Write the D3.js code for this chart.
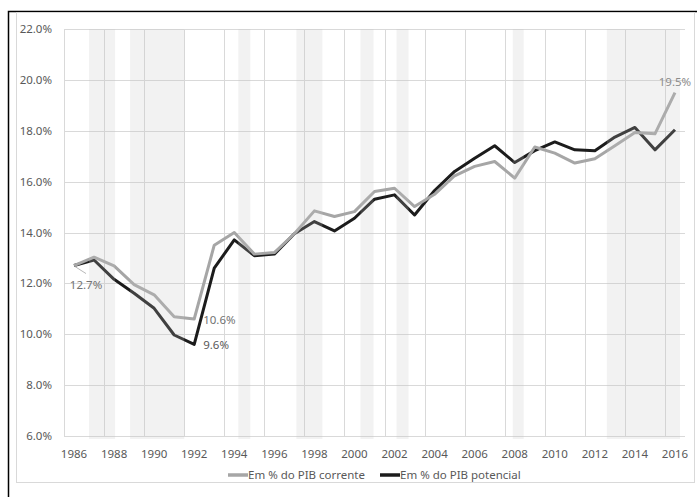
<!DOCTYPE html>
<html>
<head>
<meta charset="utf-8">
<script src="https://cdn.jsdelivr.net/npm/d3@7"></script>
<style>
  body { margin: 0; background: #fff; }
  svg { display: block; font-family: "Noto Sans", sans-serif; }
</style>
</head>
<body>
<svg width="697" height="497"></svg>
<script>
// categories
var years = [1986, 1987, 1988, 1989, 1990, 1991, 1992, 1993, 1994, 1995, 1996,
    1997, 1998, 1999, 2000, 2001, 2002, 2003, 2004, 2005, 2006, 2007, 2008,
    2009, 2010, 2011, 2012, 2013, 2014, 2015, 2016];

// % do PIB corrente (grey)
var corrente = [12.7, 13.03, 12.69, 11.95, 11.55, 10.69, 10.6, 13.5, 14.0, 13.15, 13.21,
    13.95, 14.85, 14.63, 14.82, 15.61, 15.74, 15.02, 15.5, 16.23, 16.6, 16.79, 16.14,
    17.36, 17.12, 16.73, 16.9, 17.41, 17.93, 17.88, 19.5];

// % do PIB potencial (black)
var potencial = [12.7, 12.92, 12.16, 11.61, 11.02, 9.97, 9.6, 12.6, 13.71, 13.09, 13.15,
    13.95, 14.43, 14.06, 14.56, 15.31, 15.48, 14.69, 15.65, 16.4, 16.92, 17.41, 16.75,
    17.22, 17.56, 17.25, 17.21, 17.75, 18.13, 17.25, 18.04];

// shaded periods (fractional years)
var bandStart = [1986.75, 1988.8, 1994.2, 1997.1, 2000.3, 2002.1, 2007.9, 2012.6];
var bandEnd   = [1988.05, 1991.5, 1994.8, 1998.4, 2000.95, 2002.7, 2008.45, 2016.25];

var yTicks = [6, 8, 10, 12, 14, 16, 18, 20, 22];
var xTickYears = [1986, 1988, 1990, 1992, 1994, 1996, 1998, 2000, 2002, 2004, 2006,
    2008, 2010, 2012, 2014, 2016];

var svg = d3.select("svg");

var plotL = 64, plotR = 685, plotT = 29, plotB = 436;

var x = d3.scaleBand().domain(years).range([plotL, plotR]).padding(0);
var bw = x.bandwidth();
var y = d3.scaleLinear().domain([6, 22]).range([plotB, plotT]);

function xc(yr) { return x(yr) + bw / 2; }
function xf(t) { return x(1986) + (t - 1986 + 0.5) * bw; }

// outer frame + chart area
svg.append("rect").attr("x", 8.5).attr("y", 11.5).attr("width", 720).attr("height", 520)
    .attr("fill", "none").attr("stroke", "#000").attr("stroke-width", 1.5);
svg.append("rect").attr("x", 16.5).attr("y", 12.5).attr("width", 678).attr("height", 470)
    .attr("fill", "#fff").attr("stroke", "#d9d9d9").attr("stroke-width", 1);

// horizontal grid
svg.append("g").selectAll("line").data(yTicks).enter().append("line")
    .attr("x1", plotL).attr("x2", plotR)
    .attr("y1", function (d) { return Math.round(y(d)) + 0.5; })
    .attr("y2", function (d) { return Math.round(y(d)) + 0.5; })
    .attr("stroke", "#d9d9d9").attr("stroke-width", 1);

// vertical grid
svg.append("g").selectAll("line").data(xTickYears).enter().append("line")
    .attr("x1", function (d) { return Math.round(x(d)) + 0.5; })
    .attr("x2", function (d) { return Math.round(x(d)) + 0.5; })
    .attr("y1", plotT).attr("y2", plotB)
    .attr("stroke", "#d9d9d9").attr("stroke-width", 1);

// y labels
svg.append("g").selectAll("text").data(yTicks).enter().append("text")
    .attr("x", 52).attr("y", function (d) { return y(d) + 4; })
    .attr("text-anchor", "end").attr("font-size", "11.5px").attr("fill", "#595959")
    .text(function (d) { return d.toFixed(1) + "%"; });

// x labels
svg.append("g").selectAll("text").data(xTickYears).enter().append("text")
    .attr("x", function (d) { return xc(d); }).attr("y", 458)
    .attr("text-anchor", "middle").attr("font-size", "11.5px").attr("fill", "#595959")
    .text(function (d) { return d; });

// lines
var line = d3.line()
    .x(function (d, i) { return xc(years[i]); })
    .y(function (d) { return y(d); });

svg.append("path").datum(potencial).attr("d", line)
    .attr("fill", "none").attr("stroke", "#1c1c1c").attr("stroke-width", 3)
    .attr("stroke-linejoin", "round");
svg.append("path").datum(corrente).attr("d", line)
    .attr("fill", "none").attr("stroke", "#a6a6a6").attr("stroke-width", 3)
    .attr("stroke-linejoin", "round");

// shaded bands, drawn over the lines
svg.append("g").selectAll("rect").data(bandStart).enter().append("rect")
    .attr("x", function (d) { return xf(d); })
    .attr("width", function (d, i) { return xf(bandEnd[i]) - xf(d); })
    .attr("y", plotT).attr("height", 439 - plotT)
    .attr("fill", "#c4c4c4").attr("opacity", 0.22);

// data labels
var n = years.length - 1;
svg.append("line")
    .attr("x1", xc(1986) + 1).attr("y1", y(corrente[0]) + 1)
    .attr("x2", xc(1986) + 12).attr("y2", y(corrente[0]) + 8)
    .attr("stroke", "#a6a6a6").attr("stroke-width", 0.8);
svg.append("text").attr("x", xc(1986) + 12).attr("y", y(corrente[0]) + 23)
    .attr("text-anchor", "middle").attr("font-size", "11.5px").attr("fill", "#737373")
    .text(corrente[0].toFixed(1) + "%");
svg.append("text").attr("x", xc(1992) + 9).attr("y", y(corrente[6]) + 5)
    .attr("font-size", "11.5px").attr("fill", "#737373")
    .text(corrente[6].toFixed(1) + "%");
svg.append("text").attr("x", xc(1992) + 9).attr("y", y(potencial[6]) + 5)
    .attr("font-size", "11.5px").attr("fill", "#595959")
    .text(potencial[6].toFixed(1) + "%");
svg.append("text").attr("x", xc(2016)).attr("y", y(corrente[n]) - 7)
    .attr("text-anchor", "middle").attr("font-size", "11.5px").attr("fill", "#8c8c8c")
    .text(corrente[n].toFixed(1) + "%");

// legend
var legend = [["Em % do PIB corrente", "#a6a6a6", 228], ["Em % do PIB potencial", "#1c1c1c", 380]];
var lg = svg.append("g").selectAll("g").data(legend).enter().append("g");
lg.append("line")
    .attr("x1", function (d) { return d[2]; }).attr("x2", function (d) { return d[2] + 20; })
    .attr("y1", 475).attr("y2", 475)
    .attr("stroke", function (d) { return d[1]; }).attr("stroke-width", 3.5);
lg.append("text")
    .attr("x", function (d) { return d[2] + 20; }).attr("y", 479)
    .attr("font-size", "11.5px").attr("fill", "#595959")
    .text(function (d) { return d[0]; });
</script>
</body>
</html>
